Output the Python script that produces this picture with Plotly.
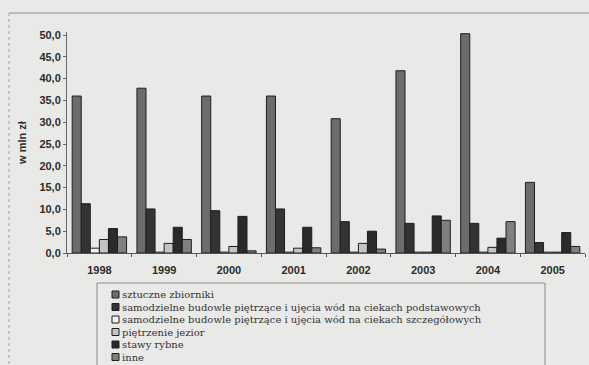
import plotly.graph_objects as go

# Nakłady wg kategorii obiektów, w mln zł
years = ["1998", "1999", "2000", "2001", "2002", "2003", "2004", "2005"]
sztuczne_zbiorniki = [36.0, 37.8, 36.0, 36.0, 30.8, 41.8, 50.3, 16.2]
budowle_podstawowe = [11.3, 10.1, 9.7, 10.1, 7.2, 6.8, 6.8, 2.4]
budowle_szczegolowe = [1.1, 0.2, 0.2, 0.2, 0.2, 0.2, 0.2, 0.2]
pietrzenie_jezior = [3.1, 2.2, 1.5, 1.1, 2.2, 0.2, 1.3, 0.2]
stawy_rybne = [5.6, 5.9, 8.4, 5.9, 5.0, 8.5, 3.4, 4.7]
inne = [3.7, 3.1, 0.5, 1.2, 0.9, 7.5, 7.2, 1.5]

series_names = [
    "sztuczne zbiorniki",
    "samodzielne budowle piętrzące i ujęcia wód na ciekach podstawowych",
    "samodzielne budowle piętrzące i ujęcia wód na ciekach szczegółowych",
    "piętrzenie jezior",
    "stawy rybne",
    "inne",
]
series_values = [sztuczne_zbiorniki, budowle_podstawowe, budowle_szczegolowe,
                 pietrzenie_jezior, stawy_rybne, inne]
series_colors = ["#6c6c6c", "#333333", "#f2f2f2", "#c4c4c4", "#2a2a2a", "#808080"]

y_ticks = [0, 5, 10, 15, 20, 25, 30, 35, 40, 45, 50]
y_tick_text = [f"{v:.1f}".replace(".", ",") for v in y_ticks]

W, H = 589, 365
L, R, T, B = 67, 4, 32, 112
PW, PH = W - L - R, H - T - B
BG = "#e9e9e7"
INK = "#2c2c2c"


def px(x):
    return (x - L) / PW


def py(y):
    return (H - B - y) / PH


fig = go.Figure()
for name, vals, col in zip(series_names, series_values, series_colors):
    fig.add_trace(go.Bar(
        x=years, y=vals, name=name,
        marker=dict(color=col, line=dict(color="#1e1e1e", width=1)),
        showlegend=False,
    ))

shapes = []
annotations = []

# ramka obszaru wykresu
shapes.append(dict(type="line", xref="paper", yref="paper",
                   x0=px(9), x1=px(W + 5), y0=py(13), y1=py(13),
                   line=dict(color="#8a8a8a", width=1)))
shapes.append(dict(type="line", xref="paper", yref="paper",
                   x0=px(9), x1=px(9), y0=py(13), y1=py(H + 5),
                   line=dict(color="#a0a0a0", width=1, dash="dot")))

# legenda
shapes.append(dict(type="rect", xref="paper", yref="paper",
                   x0=px(97), x1=px(545), y0=py(283), y1=py(H + 10),
                   line=dict(color="#8a8a8a", width=1), fillcolor="rgba(0,0,0,0)"))
row_y = [294.5, 307, 319.5, 332, 344.5, 357]
for name, col, ry in zip(series_names, series_colors, row_y):
    shapes.append(dict(type="rect", xref="paper", yref="paper",
                       x0=px(112), x1=px(119), y0=py(ry - 3.5), y1=py(ry + 3.5),
                       line=dict(color="#1e1e1e", width=1), fillcolor=col))
    annotations.append(dict(xref="paper", yref="paper", x=px(121), y=py(ry),
                            text=name, showarrow=False, xanchor="left", yanchor="middle",
                            borderpad=0,
                            font=dict(family="DejaVu Serif", size=10, color="#333333")))

fig.update_layout(
    width=W, height=H,
    margin=dict(l=L, r=R, t=T, b=B, pad=0),
    paper_bgcolor=BG, plot_bgcolor=BG,
    barmode="group", bargap=0.16, bargroupgap=0,
    font=dict(family="Liberation Sans", size=10, color=INK),
    shapes=shapes, annotations=annotations,
    showlegend=False,
    xaxis=dict(
        showline=True, linecolor="#555", linewidth=1,
        ticks="outside", ticklen=3, tickcolor="#555", tickson="boundaries",
        ticklabelstandoff=7,
        tickfont=dict(family="Liberation Sans", size=11, color=INK, weight="bold"),
        showgrid=False, zeroline=False, fixedrange=True,
    ),
    yaxis=dict(
        range=[0, PH / 4.36],
        tickvals=y_ticks, ticktext=y_tick_text,
        showline=True, linecolor="#666", linewidth=1,
        ticks="outside", ticklen=3, tickcolor="#666",
        tickfont=dict(family="Liberation Sans", size=11, color=INK, weight="bold"),
        showgrid=False, zeroline=False,
        title=dict(text="w mln zł", standoff=10,
                   font=dict(family="Liberation Sans", size=11, color=INK, weight="bold")),
    ),
)

fig.write_html("out.html")
